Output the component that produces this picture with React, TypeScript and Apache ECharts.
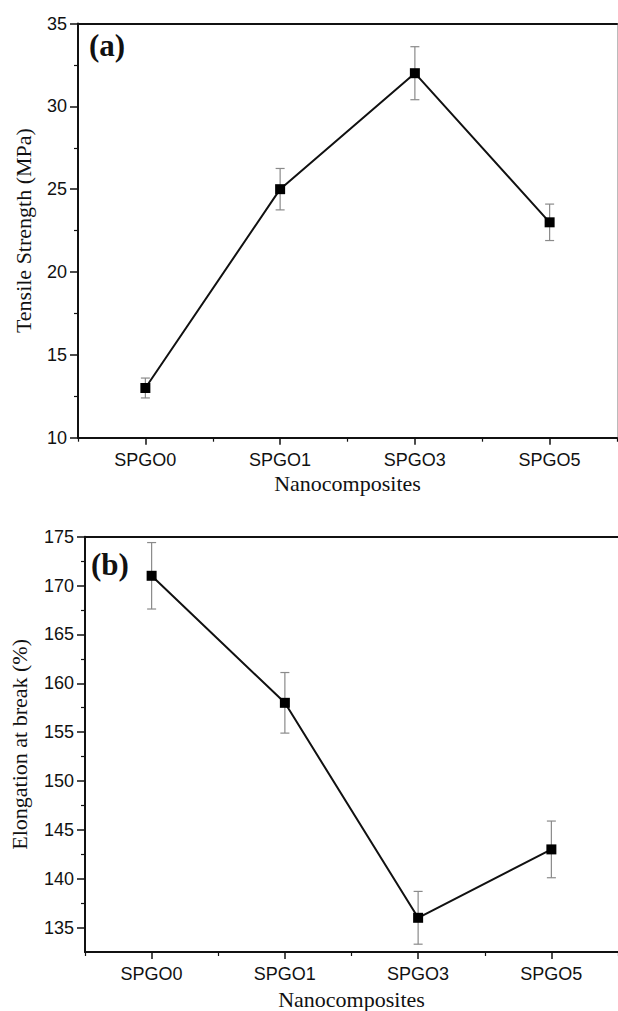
import React, { useEffect, useRef } from 'react';
import * as echarts from 'echarts';

const categories = ['SPGO0', 'SPGO1', 'SPGO3', 'SPGO5'];
const tensileStrength = [13, 25, 32, 23];
const tensileError = [0.6, 1.25, 1.6, 1.1];
const elongation = [171, 158, 136, 143];
const elongationError = [3.4, 3.1, 2.7, 2.9];
const elongationTicks = [135, 140, 145, 150, 155, 160, 165, 170, 175];
const elongationMinorTicks = [137.5, 142.5, 147.5, 152.5, 157.5, 162.5, 167.5, 172.5];

const SANS = '"Liberation Sans", Arial, sans-serif';
const SERIF = '"Liberation Serif", "Times New Roman", serif';
const INK = '#111';

function errorData(vals: number[], errs: number[]) {
  return vals.map((v, i) => [i, v - errs[i], v + errs[i]]);
}

function errorRender(params: any, api: any) {
  const x = api.value(0);
  const pLo = api.coord([x, api.value(1)]);
  const pHi = api.coord([x, api.value(2)]);
  const w = 4.5;
  const style = { stroke: '#8a8a8a', lineWidth: 1.2, fill: 'none' };
  return {
    type: 'group',
    children: [
      { type: 'line', shape: { x1: pHi[0], y1: pHi[1], x2: pLo[0], y2: pLo[1] }, style },
      { type: 'line', shape: { x1: pHi[0] - w, y1: pHi[1], x2: pHi[0] + w, y2: pHi[1] }, style },
      { type: 'line', shape: { x1: pLo[0] - w, y1: pLo[1], x2: pLo[0] + w, y2: pLo[1] }, style },
    ],
  };
}

function mainX(gridIndex: number, nameGap: number) {
  return {
    type: 'category',
    gridIndex,
    position: 'bottom',
    data: categories,
    boundaryGap: true,
    axisLine: { show: true, lineStyle: { color: INK, width: 2 } },
    axisTick: { show: true, alignWithLabel: true, length: 7, lineStyle: { color: INK, width: 1.5 } },
    axisLabel: { color: INK, fontFamily: SANS, fontSize: 18, margin: 13 },
    splitLine: { show: false },
    name: 'Nanocomposites',
    nameLocation: 'middle',
    nameGap,
    nameTextStyle: { color: INK, fontFamily: SERIF, fontSize: 22 },
  };
}

function minorX(gridIndex: number) {
  return {
    type: 'category',
    gridIndex,
    position: 'bottom',
    data: categories,
    boundaryGap: true,
    axisLine: { show: false },
    axisTick: { show: true, length: 4, lineStyle: { color: INK, width: 1.2 } },
    axisLabel: { show: false },
    splitLine: { show: false },
  };
}

function topX(gridIndex: number) {
  return {
    type: 'category',
    gridIndex,
    position: 'top',
    data: categories,
    axisLine: { show: true, lineStyle: { color: INK, width: 2 } },
    axisTick: { show: false },
    axisLabel: { show: false },
    splitLine: { show: false },
  };
}

export default function App() {
  const ref = useRef<HTMLDivElement>(null);
  useEffect(() => {
    if (!ref.current) return;
    const chart = echarts.init(ref.current, undefined, { renderer: 'svg' });
    const option: any = {
      animation: false,
      backgroundColor: '#fff',
      grid: [
        { left: 78, top: 23.5, width: 539, height: 414.2 },
        { left: 81, top: 536.7, width: 540, height: 419.3 },
      ],
      xAxis: [mainX(0, 35), minorX(0), topX(0), mainX(1, 36), minorX(1), topX(1)],
      yAxis: [
        {
          type: 'value',
          gridIndex: 0,
          position: 'left',
          min: 10,
          max: 35,
          interval: 5,
          axisLine: { show: true, lineStyle: { color: INK, width: 2 } },
          axisTick: { show: true, length: 8, lineStyle: { color: INK, width: 1.5 } },
          minorTick: { show: true, splitNumber: 2, length: 4, lineStyle: { color: INK, width: 1.2 } },
          axisLabel: { color: INK, fontFamily: SANS, fontSize: 18, margin: 11 },
          splitLine: { show: false },
          name: 'Tensile Strength (MPa)',
          nameLocation: 'middle',
          nameGap: 44,
          nameTextStyle: { color: INK, fontFamily: SERIF, fontSize: 22 },
        },
        {
          type: 'value',
          gridIndex: 0,
          position: 'right',
          min: 10,
          max: 35,
          interval: 5,
          axisLine: { show: true, lineStyle: { color: '#bbb', width: 1 } },
          axisTick: { show: false },
          axisLabel: { show: false },
          splitLine: { show: false },
        },
        {
          type: 'value',
          gridIndex: 1,
          position: 'left',
          min: 132.5,
          max: 175,
          interval: 2.5,
          axisLine: { show: true, lineStyle: { color: INK, width: 2 } },
          axisTick: { show: true, customValues: elongationTicks, length: 8, lineStyle: { color: INK, width: 1.5 } },
          axisLabel: { color: INK, fontFamily: SANS, fontSize: 18, margin: 11, customValues: elongationTicks },
          splitLine: { show: false },
          name: 'Elongation at break (%)',
          nameLocation: 'middle',
          nameGap: 55,
          nameTextStyle: { color: INK, fontFamily: SERIF, fontSize: 22 },
        },
        {
          type: 'value',
          gridIndex: 1,
          position: 'left',
          min: 132.5,
          max: 175,
          interval: 2.5,
          axisLine: { show: false },
          axisTick: { show: true, customValues: elongationMinorTicks, length: 4, lineStyle: { color: INK, width: 1.2 } },
          axisLabel: { show: false },
          splitLine: { show: false },
        },
      ],
      graphic: [
        {
          type: 'text',
          left: 89,
          top: 30,
          style: { text: '(a)', font: `bold 31px ${SERIF}`, fill: INK },
        },
        {
          type: 'text',
          left: 91,
          top: 549,
          style: { text: '(b)', font: `bold 31px ${SERIF}`, fill: INK },
        },
      ],
      series: [
        {
          type: 'custom',
          xAxisIndex: 0,
          yAxisIndex: 0,
          renderItem: errorRender,
          encode: { x: 0, y: [1, 2] },
          data: errorData(tensileStrength, tensileError),
          z: 1,
        },
        {
          type: 'line',
          xAxisIndex: 0,
          yAxisIndex: 0,
          data: tensileStrength,
          symbol: 'rect',
          symbolSize: 10,
          lineStyle: { color: INK, width: 2 },
          itemStyle: { color: '#000' },
          z: 3,
        },
        {
          type: 'custom',
          xAxisIndex: 3,
          yAxisIndex: 2,
          renderItem: errorRender,
          encode: { x: 0, y: [1, 2] },
          data: errorData(elongation, elongationError),
          z: 1,
        },
        {
          type: 'line',
          xAxisIndex: 3,
          yAxisIndex: 2,
          data: elongation,
          symbol: 'rect',
          symbolSize: 10,
          lineStyle: { color: INK, width: 2 },
          itemStyle: { color: '#000' },
          z: 3,
        },
      ],
    };
    chart.setOption(option);
    return () => chart.dispose();
  }, []);
  return (
    <div
      ref={ref}
      style={{ position: 'absolute', left: 0, top: 0, width: 618, height: 1011, background: '#fff' }}
    />
  );
}
